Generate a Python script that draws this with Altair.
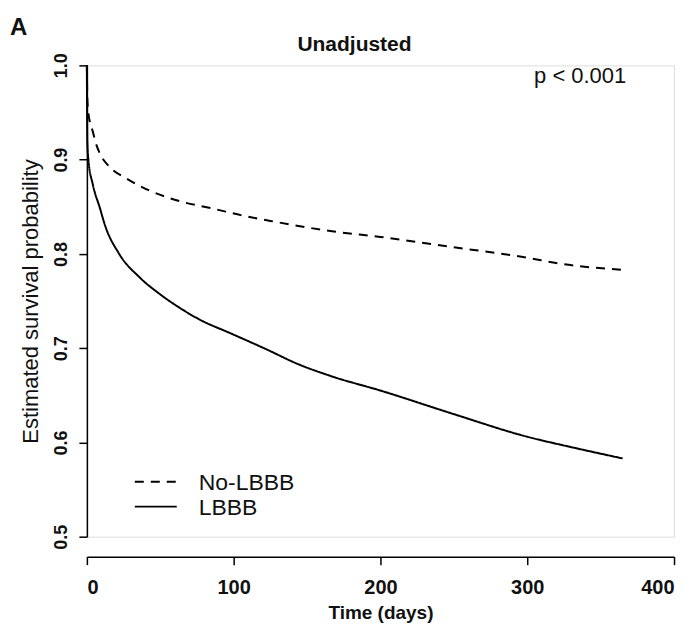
import altair as alt
import pandas as pd

nolbbb_days = [0, 0.3, 1, 2, 4, 6, 9, 15, 27, 43, 63, 86, 108, 125, 167, 200, 250, 300, 321, 365]
nolbbb_surv = [1.0, 0.965, 0.95, 0.94, 0.93, 0.918, 0.906, 0.893, 0.88, 0.867, 0.856, 0.848, 0.84, 0.835, 0.824, 0.818, 0.807, 0.796, 0.79, 0.783]

lbbb_days = [0, 0.3, 1, 4, 9, 12, 22, 36, 50, 63, 76, 99, 122, 144, 167, 200, 250, 300, 330, 365]
lbbb_surv = [1.0, 0.92, 0.9, 0.874, 0.848, 0.832, 0.80, 0.775, 0.757, 0.743, 0.731, 0.715, 0.699, 0.683, 0.670, 0.655, 0.630, 0.606, 0.595, 0.583]

groups = ["No-LBBB", "LBBB"]
legend_rows = [0, 1]

df = pd.concat([
    pd.DataFrame({"day": nolbbb_days, "surv": nolbbb_surv, "group": groups[0]}),
    pd.DataFrame({"day": lbbb_days, "surv": lbbb_surv, "group": groups[1]}),
])
legend_df = pd.DataFrame({"group": groups, "row": legend_rows})

FONT = "Liberation Sans"
INK = "#111"

dash_scale = alt.Scale(domain=groups, range=[[9, 7], [1, 0]])
leg_y = alt.Y("row:Q", scale=alt.Scale(domain=[0, 1], range=[417, 442], nice=False, zero=False), axis=None)

lines = alt.Chart(df).mark_line(color="black", strokeWidth=2, interpolate="monotone").encode(
    x=alt.X("day:Q", scale=alt.Scale(domain=[0, 400], nice=False, zero=False),
            axis=alt.Axis(title="Time (days)", values=[0, 100, 200, 300, 400], offset=20,
                          tickSize=8, labelPadding=13, labelFontSize=20, labelFontWeight="bold",
                          titleFontSize=19, titleFontWeight="bold", titlePadding=6,
                          grid=False, domainColor="black", tickColor="black",
                          labelColor=INK, titleColor=INK, domainWidth=1.5, tickWidth=1.5,
                          labelFont=FONT, titleFont=FONT)),
    y=alt.Y("surv:Q", scale=alt.Scale(domain=[0.5, 1.0], nice=False, zero=False),
            axis=alt.Axis(title="Estimated survival probability", values=[0.5, 0.6, 0.7, 0.8, 0.9, 1.0],
                          format=".1f", labelAngle=270, tickSize=8, labelPadding=8,
                          labelFontSize=18, labelFontWeight="bold", titleFontSize=22,
                          titleFontWeight="normal", titlePadding=10, grid=False,
                          domainColor="black", tickColor="black", labelColor=INK,
                          titleColor=INK, domainWidth=1.5, tickWidth=1.5,
                          labelFont=FONT, titleFont=FONT)),
    strokeDash=alt.StrokeDash("group:N", scale=dash_scale, legend=None),
)

leg_rule = alt.Chart(legend_df).mark_rule(color="black", strokeWidth=1.8).encode(
    x=alt.value(48), x2=alt.value(90), y=leg_y,
    strokeDash=alt.StrokeDash("group:N", scale=dash_scale, legend=None),
)

leg_text = alt.Chart(legend_df).mark_text(
    fontSize=23, font=FONT, color=INK, align="left", baseline="middle", dy=1
).encode(x=alt.value(112), y=leg_y, text="group:N")

ptext = alt.Chart(pd.DataFrame({"t": ["p < 0.001"]})).mark_text(
    fontSize=22, font=FONT, color=INK, align="center", baseline="middle"
).encode(text="t:N", x=alt.value(494), y=alt.value(11))

atext = alt.Chart(pd.DataFrame({"t": ["A"]})).mark_text(
    fontSize=24, font=FONT, fontWeight="bold", color=INK, align="left", baseline="middle"
).encode(text="t:N", x=alt.value(-77), y=alt.value(-37))

ttext = alt.Chart(pd.DataFrame({"t": ["Unadjusted"]})).mark_text(
    fontSize=21, font=FONT, fontWeight="bold", color=INK, align="center", baseline="middle"
).encode(text="t:N", x=alt.value(268), y=alt.value(-20))

chart = alt.layer(lines, leg_rule, leg_text, ptext, atext, ttext).resolve_scale(
    y="independent"
).properties(
    width=588, height=472,
    autosize=alt.AutoSizeParams(type="none"),
    padding={"left": 79, "top": 57, "right": 10, "bottom": 89},
).configure_view(stroke=None).configure(background="white")

chart.save("out.html", embed_options={"renderer": "svg", "actions": False})
